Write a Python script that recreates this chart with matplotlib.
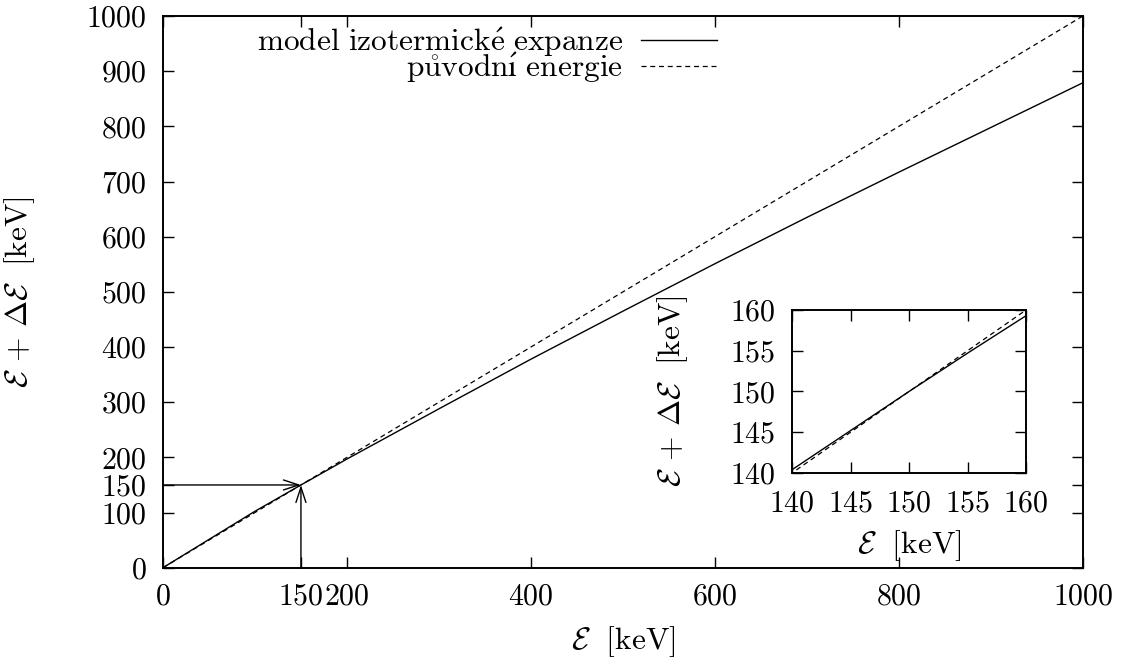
import matplotlib
matplotlib.use('Agg')
import matplotlib.pyplot as plt

plt.rcParams['font.family'] = ['cmr10']
plt.rcParams['mathtext.fontset'] = 'cm'
plt.rcParams['axes.formatter.use_mathtext'] = True
plt.rcParams['font.size'] = 22.6

# energie pred a po expanzi [keV]
energy = [0, 50, 100, 140, 145, 150, 155, 160, 200, 300, 400, 500, 600, 700, 800, 900, 1000]
model = [0, 51.2, 102.3, 140.4, 145.2, 150, 154.7, 159.3, 197, 288, 378, 465, 551, 635, 717, 798, 879]
original = energy

marker_E = 150

xticks = [0, 150, 200, 400, 600, 800, 1000]
yticks = [0, 100, 150, 200, 300, 400, 500, 600, 700, 800, 900, 1000]
inset_ticks = [140, 145, 150, 155, 160]

label_model = r'$\mathrm{model\ izotermick\acute{e}\ expanze}$'
label_orig = r'$\mathrm{p\mathring{u}vodn\acute{ı}\ energie}$'
xlabel = r'$\mathcal{E}\ \ [\mathrm{keV}]$'
ylabel = r'$\mathcal{E}\, +\, \Delta\mathcal{E}\ \ [\mathrm{keV}]$'

fig = plt.figure(figsize=(11.23, 6.64), dpi=100)
ax = fig.add_axes([0.1451, 0.145, 0.8192, 0.8309])

ax.plot(energy, model, color='black', lw=1.0, label=label_model)
ax.plot(energy, original, color='black', lw=0.9, dashes=(4, 3), label=label_orig)

arrow = dict(arrowstyle='->,head_length=0.55,head_width=0.18', color='black',
             lw=1.0, shrinkA=0, shrinkB=0, mutation_scale=20)
ax.annotate('', xy=(marker_E, marker_E), xytext=(0, marker_E), arrowprops=arrow)
ax.annotate('', xy=(marker_E, marker_E), xytext=(marker_E, 0), arrowprops=arrow)

ax.set_xlim(0, 1000)
ax.set_ylim(0, 1000)
ax.set_xticks(xticks)
ax.set_yticks(yticks)
ax.tick_params(direction='in', length=8, width=1, top=True, right=True, labelsize=21.5)
ax.tick_params(axis='x', pad=11)
ax.tick_params(axis='y', pad=12)
for s in ax.spines.values():
    s.set_linewidth(1.4)
ax.set_xlabel(xlabel, labelpad=10)
ax.set_ylabel(ylabel, labelpad=35)

ax.legend(loc='upper right', bbox_to_anchor=(0.602, 0.984), frameon=False,
          markerfirst=False, handlelength=2.4, handletextpad=0.6,
          labelspacing=-0.27, borderpad=0, borderaxespad=0)

# detail kolem 150 keV
ins = fig.add_axes([0.7053, 0.2877, 0.2084, 0.2455])
ins.plot(energy, model, color='black', lw=1.0)
ins.plot(energy, original, color='black', lw=0.9, dashes=(4, 3))
ins.set_xlim(140, 160)
ins.set_ylim(140, 160)
ins.set_xticks(inset_ticks)
ins.set_yticks(inset_ticks)
ins.tick_params(direction='in', length=8, width=1, top=True, right=True, pad=12,
                labelsize=21.5)
for s in ins.spines.values():
    s.set_linewidth(1.4)
ins.set_xlabel(xlabel, labelpad=8)
ins.set_ylabel(ylabel, labelpad=29)

fig.savefig('out.png', dpi=100)
